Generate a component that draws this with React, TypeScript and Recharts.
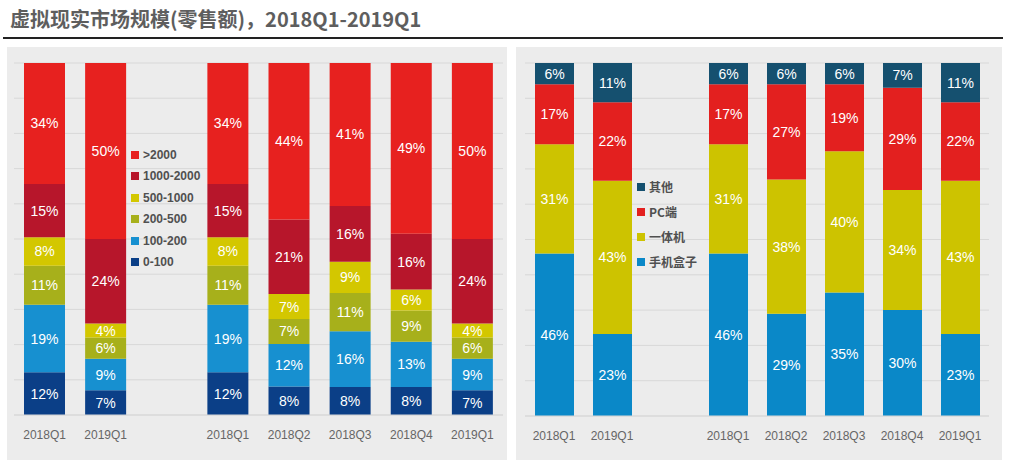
import React from 'react';
import { BarChart, Bar, XAxis, YAxis, CartesianGrid, LabelList } from 'recharts';

const QUARTERS = ['2018Q1', '2019Q1', '', '2018Q1', '2018Q2', '2018Q3', '2018Q4', '2019Q1'];

// price bands, bottom to top
const PRICE_KEYS = ['0-100', '100-200', '200-500', '500-1000', '1000-2000', '>2000'];
const PRICE_COLORS = ['#0b3f87', '#1790d0', '#a7b01b', '#d3c700', '#b7162b', '#e7211f'];
const P_0_100 = [12, 7, null, 12, 8, 8, 8, 7];
const P_100_200 = [19, 9, null, 19, 12, 16, 13, 9];
const P_200_500 = [11, 6, null, 11, 7, 11, 9, 6];
const P_500_1000 = [8, 4, null, 8, 7, 9, 6, 4];
const P_1000_2000 = [15, 24, null, 15, 21, 16, 16, 24];
const P_2000_UP = [34, 50, null, 34, 44, 41, 49, 50];

// device types, bottom to top
const DEVICE_KEYS = ['手机盒子', '一体机', 'PC端', '其他'];
const DEVICE_COLORS = ['#0a88c8', '#cdc300', '#e3201f', '#15506f'];
const D_PHONE = [46, 23, null, 46, 29, 35, 30, 23];
const D_AIO = [31, 43, null, 31, 38, 40, 34, 43];
const D_PC = [17, 22, null, 17, 27, 19, 29, 22];
const D_OTHER = [6, 11, null, 6, 6, 6, 7, 11];

const GRID_TICKS = [0, 0.1, 0.2, 0.3, 0.4, 0.5, 0.6, 0.7, 0.8, 0.9, 1];

const priceSeries = [P_0_100, P_100_200, P_200_500, P_500_1000, P_1000_2000, P_2000_UP];
const deviceSeries = [D_PHONE, D_AIO, D_PC, D_OTHER];

const priceData = QUARTERS.map((q, i) => {
  const row: Record<string, any> = { q };
  PRICE_KEYS.forEach((k, j) => { row[k] = priceSeries[j][i] ?? 0; });
  return row;
});
const deviceData = QUARTERS.map((q, i) => {
  const row: Record<string, any> = { q };
  DEVICE_KEYS.forEach((k, j) => { row[k] = deviceSeries[j][i] ?? 0; });
  return row;
});

const FONT = '"Liberation Sans", Arial, sans-serif';
const CJK = '"Noto Sans CJK SC", sans-serif';

const renderLabel = (props: any) => {
  const { x, y, width, height, value } = props;
  if (!value) return null;
  return (
    <text
      x={x + width / 2}
      y={y + height / 2}
      fill="#fff"
      fontSize={14}
      fontFamily={FONT}
      textAnchor="middle"
      dominantBaseline="central"
    >
      {value}%
    </text>
  );
};

function Panel({ left, width, data, keys, colors, barSize, margin, legendPos, legendGap, legendFont }: any) {
  return (
    <div style={{ position: 'absolute', left, top: 47, width, height: 413, background: '#ececec' }}>
      <BarChart width={width} height={413} data={data} stackOffset="expand" margin={margin} barSize={barSize}>
        <CartesianGrid vertical={false} stroke="#d8d8d8" />
        <YAxis hide domain={[0, 1]} ticks={GRID_TICKS} />
        <XAxis
          dataKey="q"
          tickLine={false}
          axisLine={{ stroke: '#d8d8d8' }}
          tick={{ fill: '#666', fontSize: 12, fontFamily: FONT }}
          tickMargin={9}
          height={30}
          interval={0}
        />
        {keys.map((k: string, i: number) => (
          <Bar key={k} dataKey={k} stackId="a" fill={colors[i]} isAnimationActive={false}>
            <LabelList dataKey={k} content={renderLabel} />
          </Bar>
        ))}
      </BarChart>
      <div style={{ position: 'absolute', left: legendPos[0], top: legendPos[1], fontFamily: legendFont }}>
        {keys.map((k: string, i: number) => ({ k, c: colors[i] })).reverse().map(({ k, c }: any) => (
          <div key={k} style={{ display: 'flex', alignItems: 'center', height: legendGap, fontSize: 12, fontWeight: 'bold', color: '#505050', whiteSpace: 'nowrap' }}>
            <span style={{ width: 8, height: 8, background: c, marginRight: 4, display: 'inline-block' }} />
            {k}
          </div>
        ))}
      </div>
    </div>
  );
}

export default function App() {
  return (
    <div style={{ position: 'absolute', left: 0, top: 0, width: 1010, height: 466, background: '#fff', overflow: 'hidden' }}>
      <div style={{ position: 'absolute', left: 10, top: 4, fontSize: 20, fontWeight: 'bold', color: '#5e5e5e', fontFamily: CJK, whiteSpace: 'nowrap' }}>
        虚拟现实市场规模(零售额)，2018Q1-2019Q1
      </div>
      <div style={{ position: 'absolute', left: 3, top: 37, width: 1000, height: 1.5, background: '#222' }} />
      <Panel
        left={7}
        width={500}
        data={priceData}
        keys={PRICE_KEYS}
        colors={PRICE_COLORS}
        barSize={41}
        margin={{ top: 16, right: 4, left: 7, bottom: 15 }}
        legendPos={[124, 97]}
        legendGap={21.5}
        legendFont={FONT}
      />
      <Panel
        left={516}
        width={486}
        data={deviceData}
        keys={DEVICE_KEYS}
        colors={DEVICE_COLORS}
        barSize={39}
        margin={{ top: 16, right: 13, left: 9, bottom: 14 }}
        legendPos={[121, 127]}
        legendGap={25}
        legendFont={CJK}
      />
    </div>
  );
}
